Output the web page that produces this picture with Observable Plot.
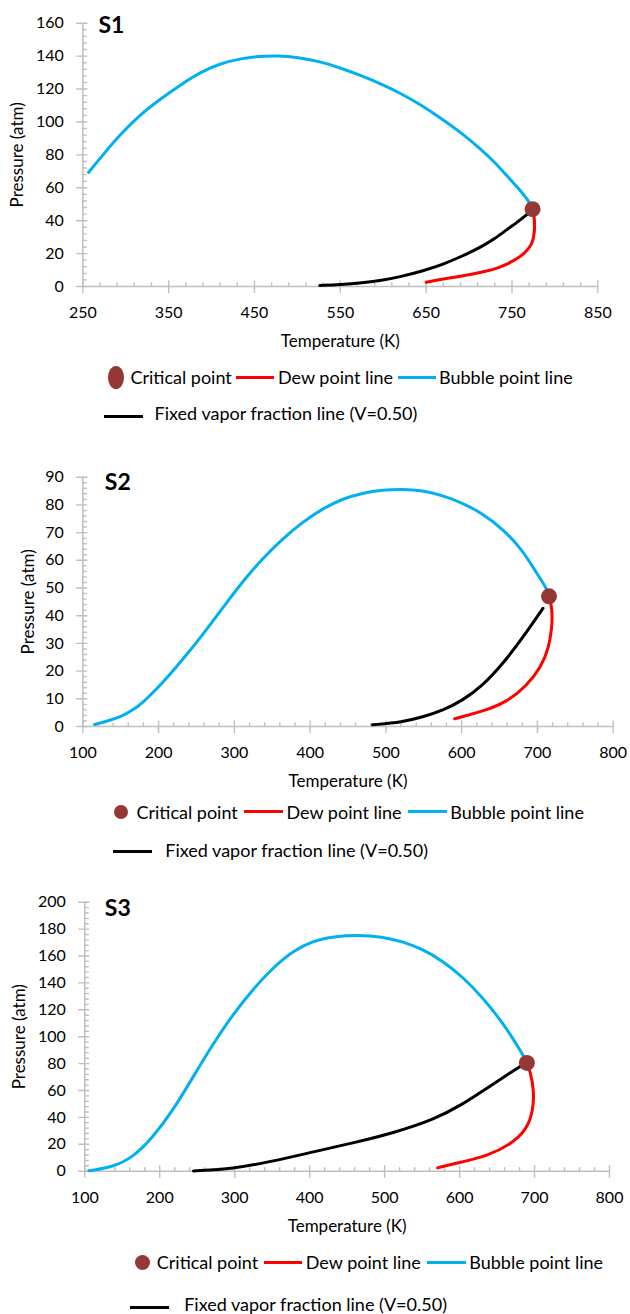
<!DOCTYPE html>
<html><head><meta charset="utf-8">
<script src="https://cdn.jsdelivr.net/npm/d3@7"></script>
<script src="https://cdn.jsdelivr.net/npm/@observablehq/plot@0.6"></script>
<style>
body{margin:0;background:#fff;font-family:Lato,"Open Sans",sans-serif;}
#wrap{position:relative;width:630px;height:1314px;overflow:hidden;background:#fff}
.panel{position:absolute;left:0}
.lt{position:absolute;font-size:18px;line-height:16px;height:16px;color:#000;white-space:nowrap}
.ll{position:absolute;height:3px}
.lm{position:absolute;background:#953735;border-radius:50%}
</style>
</head><body><div id="wrap"></div>
<script>
// ---------- data ----------
const s1BubbleT = [256.6,275,294.9,318,341.6,365,388.3,410,435,455,477,500,528.5,550,575.3,598,621.9,645,668.7,692,715.4,730,743.5,758,771.5,774];
const s1BubbleP = [69.3,81,93.1,105,114.4,123,130.5,135.5,138.6,140,140.3,139.3,136.5,132.8,128,123,117,110,101.7,93,82.7,75.5,67.6,59.5,50.5,47];
const s1DewT = [774,776,776.5,776,774.5,771.5,765,757.5,746,734,718,701,685,668.7,650];
const s1DewP = [47,42.4,37,32.4,28,24.3,20.5,17.3,14,11.3,9,7.2,5.8,4.6,2.6];
const s1VapT = [526,550,575,600,622,645,669,692,715,730,743.5,756,767,771];
const s1VapP = [0.6,1.2,2.2,3.8,6.2,9.3,13.3,18.4,24.3,29,34.4,39,43.5,45.5];
const s1Crit = [{T:774,P:47}];
const s1XTicks = [250,350,450,550,650,750,850];
const s1YTicks = [0,20,40,60,80,100,120,140,160];

const s2BubbleT = [115.4,135,151.4,165,177.8,204.3,230.8,257.3,283.7,310.2,336.7,363.2,389.6,416.1,442.6,469.1,495.5,522,548.5,575,601.4,627.9,654.4,680.9,696.7,712.6,715.3];
const s2BubbleP = [0.7,2.2,3.6,5.8,8.2,15.4,23.8,32.8,42.5,52.1,60.5,67.7,73.7,78.6,82.2,84.3,85.4,85.7,85.2,83.4,80.7,76.8,71.3,63.5,56.3,49.7,47];
const s2DewT = [715.3,719,719.5,719,715.3,704.7,686.2,659.7,627.9,606.7,590.8];
const s2DewP = [47,43.1,39,35.8,28.6,21.4,14.8,8.8,5.5,4,2.8];
const s2VapT = [482.3,522,548.5,575,601.4,627.9,654.4,680.9,707.4];
const s2VapP = [0.6,1.6,3.4,5.8,9.4,14.8,22.6,32.2,42.7];
const s2Crit = [{T:715.3,P:47}];
const s2XTicks = [100,200,300,400,500,600,700,800];
const s2YTicks = [0,10,20,30,40,50,60,70,80,90];

const s3BubbleT = [105.4,136.5,163.4,190.2,217.1,244,270.8,297.7,324.5,351.4,378.3,405.1,432,464.2,496.5,523.3,550.2,577,603.9,630.8,657.6,684.5,689.8];
const s3BubbleP = [0.3,3,9.9,24.8,44.7,69.6,94.4,116.7,135.4,151.5,163.9,171.4,174.4,175.6,174.4,170.9,165.2,156.5,144.6,129.2,110.5,86.9,80.5];
const s3DewT = [689.8,694.1,699.5,697.9,689.8,668.3,636.1,603.9,570.6];
const s3DewP = [80.5,74.5,59.6,44.7,31,19.9,11.2,7,2.5];
const s3VapT = [245,297.7,351.4,405.1,458.9,512.6,566.3,603.9,630.8,657.6,681.8];
const s3VapP = [0.2,1.7,7.5,14.4,21.1,28.6,38.5,49.7,59.6,69.6,78.2];
const s3Crit = [{T:689.8,P:80.5}];
const s3XTicks = [100,200,300,400,500,600,700,800];
const s3YTicks = [0,20,40,60,80,100,120,140,160,180,200];

const seriesNames = ["Critical point","Dew point line","Bubble point line","Fixed vapor fraction line (V=0.50)"];
const panelNames = ["S1","S2","S3"];
const xTitle = "Temperature (K)";
const yTitle = "Pressure (atm)";

// ---------- drawing ----------
const BLUE="#00b0f0", RED="#ff0000", BLACK="#000000", CRIT="#953735", GREY="#bfbfbf";
const zip = (T,P) => T.map((t,i)=>({T:t,P:P[i]}));

const cfgs = [
 {name:panelNames[0], top:0, height:360, ml:82.3, mr:32.7, mt:22.7, mb:74,
  xt:s1XTicks, yt:s1YTicks, xMinor:20, yMinor:4, yTitleDx:-65.5, sDx:15.7, sDy:2.3,
  bubble:zip(s1BubbleT,s1BubbleP), dew:zip(s1DewT,s1DewP), vap:zip(s1VapT,s1VapP), crit:s1Crit},
 {name:panelNames[1], top:440, height:360, ml:82.3, mr:17.3, mt:36.7, mb:74,
  xt:s2XTicks, yt:s2YTicks, xMinor:20, yMinor:2, yTitleDx:-54.2, sDx:22, sDy:5,
  bubble:zip(s2BubbleT,s2BubbleP), dew:zip(s2DewT,s2DewP), vap:zip(s2VapT,s2VapP), crit:s2Crit},
 {name:panelNames[2], top:870, height:370, ml:84.3, mr:21, mt:31.7, mb:69.3,
  xt:s3XTicks, yt:s3YTicks, xMinor:20, yMinor:4, yTitleDx:-65.2, sDx:20, sDy:6.6,
  bubble:zip(s3BubbleT,s3BubbleP), dew:zip(s3DewT,s3DewP), vap:zip(s3VapT,s3VapP), crit:s3Crit}
];

function minorTicks(major, step){
  const lo = major[0], hi = major[major.length-1];
  return d3.range(lo, hi+1e-9, step).filter(v => !major.some(m => Math.abs(m-v) < 1e-9));
}
// tick glyphs drawn by the vector mark at each tick value
const segShape = (x1,y1,x2,y2) => ({draw(ctx){ ctx.moveTo(x1,y1); ctx.lineTo(x2,y2); }});

const wrap = document.getElementById("wrap");

cfgs.forEach(c => {
  const xd = [c.xt[0], c.xt[c.xt.length-1]];
  const yd = [c.yt[0], c.yt[c.yt.length-1]];
  const tickStyle = {length:1, anchor:"start", stroke:GREY, strokeWidth:1.4};
  const chart = Plot.plot({
    width:630, height:c.height,
    marginLeft:c.ml, marginRight:c.mr, marginTop:c.mt, marginBottom:c.mb,
    style:{fontFamily:"Lato, 'Open Sans', sans-serif", fontSize:"16px", color:"#000", background:"transparent", overflow:"visible"},
    x:{domain:xd, label:null},
    y:{domain:yd, label:null},
    marks:[
      Plot.ruleY([yd[0]], {stroke:GREY, strokeWidth:1.5}),
      Plot.ruleX([xd[0]], {stroke:GREY, strokeWidth:1.5}),
      // x ticks: major cross the axis, minor point inward
      Plot.vector(c.xt, {x:d=>d, y:()=>yd[0], ...tickStyle, shape:segShape(0,6,0,-5.5)}),
      Plot.vector(minorTicks(c.xt, c.xMinor), {x:d=>d, y:()=>yd[0], ...tickStyle, shape:segShape(0,0,0,-3.5)}),
      // y ticks
      Plot.vector(c.yt, {x:()=>xd[0], y:d=>d, ...tickStyle, shape:segShape(-6,0,4,0)}),
      Plot.vector(minorTicks(c.yt, c.yMinor), {x:()=>xd[0], y:d=>d, ...tickStyle, shape:segShape(0,0,3.5,0)}),
      // tick labels
      Plot.axisX({ticks:c.xt, tickSize:0, tickPadding:20, fontSize:16, label:null, tickFormat:d=>String(d)}),
      Plot.axisY({ticks:c.yt, tickSize:0, tickPadding:19, fontSize:16, label:null, tickFormat:d=>String(d)}),
      // axis titles and panel name
      Plot.text([xTitle], {text:d=>d, frameAnchor:"bottom", dy:55, textAnchor:"middle", lineAnchor:"middle", fontSize:17}),
      Plot.text([yTitle], {text:d=>d, frameAnchor:"left", rotate:-90, dx:c.yTitleDx, textAnchor:"middle", lineAnchor:"middle", fontSize:17}),
      Plot.text([c.name], {text:d=>d, frameAnchor:"top-left", dx:c.sDx, dy:c.sDy, textAnchor:"start", lineAnchor:"middle", fontSize:23, fontWeight:"bold"}),
      // data
      Plot.line(c.bubble, {x:"T", y:"P", stroke:BLUE, strokeWidth:3, curve:"basis"}),
      Plot.line(c.vap, {x:"T", y:"P", stroke:BLACK, strokeWidth:3, curve:"basis"}),
      Plot.line(c.dew, {x:"T", y:"P", stroke:RED, strokeWidth:3, curve:"basis"}),
      Plot.dot(c.crit, {x:"T", y:"P", r:8, fill:CRIT, stroke:"none"})
    ]
  });
  const div = document.createElement("div");
  div.className = "panel";
  div.style.top = c.top + "px";
  div.appendChild(chart);
  wrap.appendChild(div);
});

// ---------- legends (HTML, below each chart) ----------
function addText(txt, left, cy){
  const e = document.createElement("div"); e.className="lt"; e.textContent = txt;
  e.style.left = left+"px"; e.style.top = (cy-8)+"px"; wrap.appendChild(e);
}
function addLine(color, x1, x2, cy){
  const e = document.createElement("div"); e.className="ll"; e.style.background=color;
  e.style.left=x1+"px"; e.style.width=(x2-x1)+"px"; e.style.top=(cy-1.5)+"px"; wrap.appendChild(e);
}
function addMarker(cx, cy, w, h){
  const e = document.createElement("div"); e.className="lm";
  e.style.left=(cx-w/2)+"px"; e.style.top=(cy-h/2)+"px"; e.style.width=w+"px"; e.style.height=h+"px"; wrap.appendChild(e);
}
const legends = [
  {y1:377, mk:[116.4,16,23], t1:130.5, red:[236,274.3], t2:278, blue:[397.7,435.8], t3:439, y2:413, blk:[103.6,142.6], by:416.7, t4:154.6},
  {y1:811.7, mk:[121.2,14,14], t1:136.5, red:[244.4,282.9], t2:286.5, blue:[408,447], t3:450.2, y2:850, blk:[113.2,152.5], by:851, t4:165.3},
  {y1:1262.3, mk:[142.7,15,15], t1:156.8, red:[263.5,301.8], t2:305.8, blue:[426.6,466.1], t3:469.3, y2:1304, blk:[130.2,168.9], by:1307.3, t4:184.2}
];
legends.forEach(L => {
  addMarker(L.mk[0], L.y1, L.mk[1], L.mk[2]);
  addText(seriesNames[0], L.t1, L.y1);
  addLine(RED, L.red[0], L.red[1], L.y1);
  addText(seriesNames[1], L.t2, L.y1);
  addLine(BLUE, L.blue[0], L.blue[1], L.y1);
  addText(seriesNames[2], L.t3, L.y1);
  addLine(BLACK, L.blk[0], L.blk[1], L.by);
  addText(seriesNames[3], L.t4, L.y2);
});
</script>
</body></html>
